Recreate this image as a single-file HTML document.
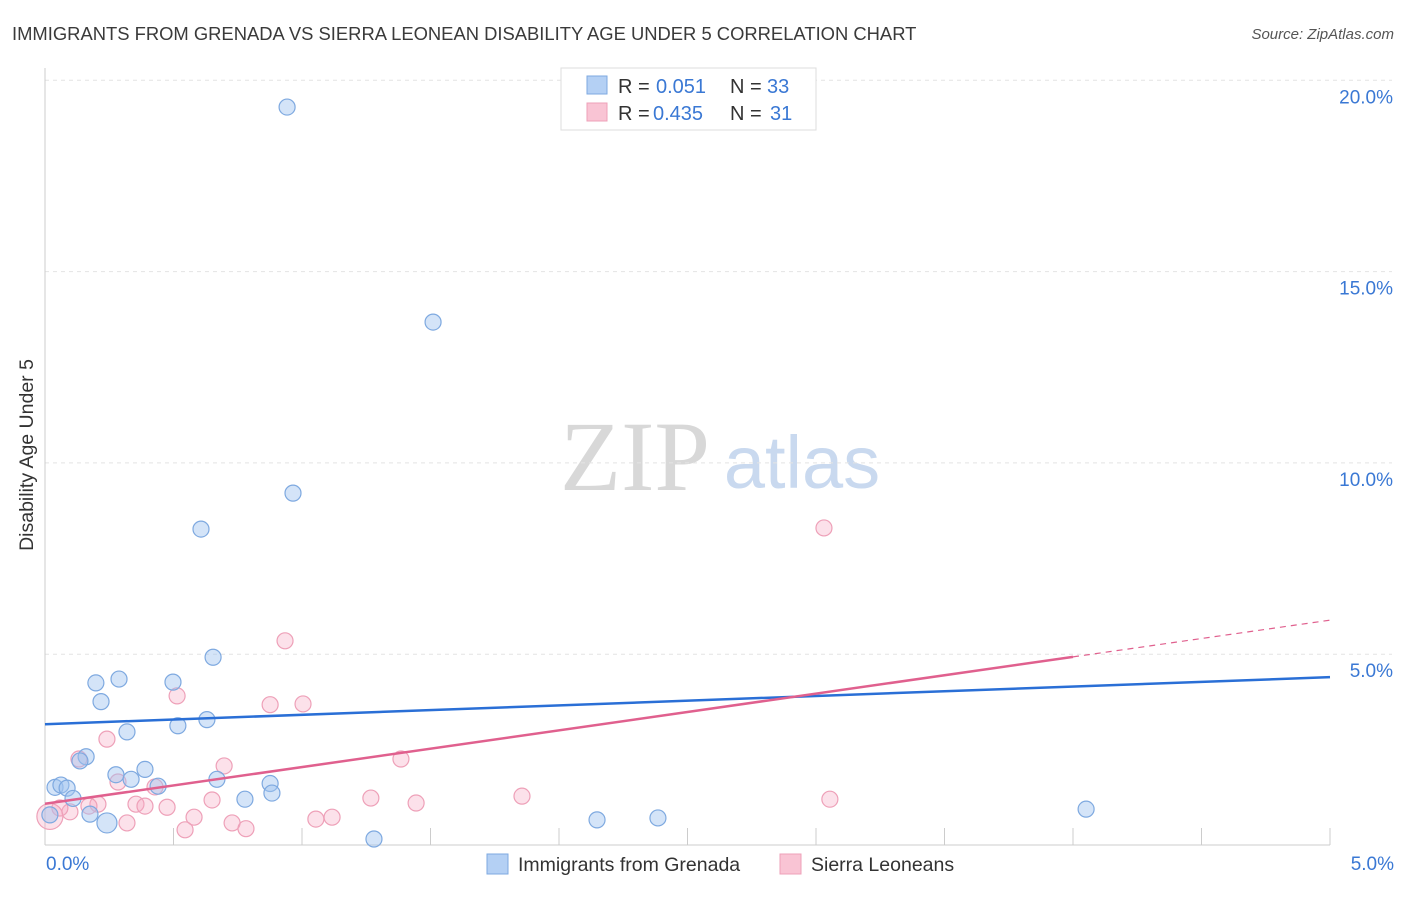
<!DOCTYPE html>
<html><head><meta charset="utf-8">
<style>
body{margin:0;background:#fff;font-family:"Liberation Sans",sans-serif;}
</style></head>
<body>
<svg id="chart" width="1406" height="892" xmlns="http://www.w3.org/2000/svg" font-family="Liberation Sans, sans-serif">
<text x="12" y="40" font-size="18.4" fill="#3a3a3a">IMMIGRANTS FROM GRENADA VS SIERRA LEONEAN DISABILITY AGE UNDER 5 CORRELATION CHART</text>
<text x="1394" y="39" font-size="15" fill="#555" font-style="italic" text-anchor="end">Source: ZipAtlas.com</text>
<text x="635" y="490" font-size="100" fill="#d8d8d8" style="font-family:'Liberation Serif',serif" text-anchor="middle">ZIP</text>
<text x="802" y="488" font-size="74" fill="#c9d9ef" text-anchor="middle">atlas</text>
<text transform="translate(33,455) rotate(-90)" font-size="19.5" fill="#333" text-anchor="middle">Disability Age Under 5</text>
<g id="grid"></g>
<g id="marks"></g>
<g>
<rect x="561" y="68" width="255" height="62" fill="#fff" stroke="#ddd"/>
<rect x="587" y="76" width="20" height="18" fill="#b4d0f4" stroke="#7ea9e0"/>
<rect x="587" y="103" width="20" height="18" fill="#f9c4d4" stroke="#eea0b8"/>
<text x="618" y="93" font-size="20" fill="#333">R =</text>
<text x="656" y="93" font-size="20" fill="#3a78d4">0.051</text>
<text x="730" y="93" font-size="20" fill="#333">N =</text>
<text x="767" y="93" font-size="20" fill="#3a78d4">33</text>
<text x="618" y="120" font-size="20" fill="#333">R =</text>
<text x="653" y="120" font-size="20" fill="#3a78d4">0.435</text>
<text x="730" y="120" font-size="20" fill="#333">N =</text>
<text x="770" y="120" font-size="20" fill="#3a78d4">31</text>
</g>
<g>
<rect x="487" y="854" width="21" height="20" fill="#b4d0f4" stroke="#7ea9e0"/>
<text x="518" y="871" font-size="19.5" fill="#333">Immigrants from Grenada</text>
<rect x="780" y="854" width="21" height="20" fill="#f9c4d4" stroke="#eea0b8"/>
<text x="811" y="871" font-size="19.5" fill="#333">Sierra Leoneans</text>
</g>
</svg>
<script>
const xTicks=[0,5];
const yTicks=[5,10,15,20];
const blueX=[0.942,1.510,0.965,0.607,0.654,0.288,0.198,0.498,0.218,0.630,0.517,0.319,0.160,0.136,0.276,0.389,0.335,0.440,0.669,0.876,0.039,0.062,0.086,0.109,0.778,0.883,0.175,0.241,1.280,2.148,2.385,4.051,0.019];
const blueY=[19.30,13.68,9.21,8.27,4.92,4.35,4.25,4.27,3.76,3.29,3.13,2.97,2.32,2.21,1.85,1.99,1.73,1.55,1.73,1.62,1.52,1.58,1.50,1.23,1.21,1.37,0.82,0.59,0.17,0.67,0.72,0.95,0.80];
const pinkX=[3.031,0.934,0.514,0.876,1.004,0.241,0.132,0.697,1.385,0.284,0.428,0.354,0.389,0.475,0.206,0.171,0.097,0.058,0.650,1.268,1.444,1.856,3.054,0.580,0.728,0.782,0.545,0.319,1.054,1.117,0.019];
const pinkY=[8.30,5.35,3.91,3.68,3.70,2.78,2.26,2.08,2.26,1.66,1.53,1.08,1.03,1.00,1.08,1.03,0.88,0.98,1.19,1.24,1.11,1.29,1.21,0.74,0.59,0.44,0.41,0.59,0.69,0.74,0.76];
const blueTrend=[3.17,4.40];
const pinkTrend=[1.09,5.89];
const NS="http://www.w3.org/2000/svg";
const sx=v=>45+v/5*1285;
const sy=v=>845.5-v*38.26;
function mk(tag,attrs,parent){const e=document.createElementNS(NS,tag);for(const k in attrs)e.setAttribute(k,attrs[k]);parent.appendChild(e);return e;}
const grid=document.getElementById('grid'),marks=document.getElementById('marks');
yTicks.forEach(t=>{
 const l=mk('line',{x1:45,x2:1392,y1:sy(t),y2:sy(t),stroke:'#e4e4e4','stroke-dasharray':'4,4'},grid);
 
 
 const tx=mk('text',{x:1393,y:sy(t)+23,'font-size':19,fill:'#3a78d4','text-anchor':'end'},grid);
 tx.textContent=t.toFixed(1)+'%';
 
 
});
mk('line',{x1:45,x2:45,y1:68,y2:845,stroke:'#ccc'},grid);
mk('line',{x1:45,x2:1330,y1:845,y2:845,stroke:'#ccc'},grid);
for(let i=1;i<=10;i++){const x=sx(i*0.5);mk('line',{x1:x,x2:x,y1:828,y2:845,stroke:'#ccc'},grid);}
xTicks.forEach((t,i)=>{
 const tx=mk('text',{x:i==0?46:1394,y:870,'font-size':19,fill:'#3a78d4','text-anchor':i==0?'start':'end'},grid);
 tx.textContent=t.toFixed(1)+'%';
 
 
});
pinkX.forEach((x,i)=>{
 const c=mk('circle',{cx:sx(x),cy:sy(pinkY[i]),r:i==pinkX.length-1?13:8,fill:'rgba(245,170,195,0.35)',stroke:'#eea0b8','stroke-width':1.2},marks);
 
 
});
blueX.forEach((x,i)=>{
 const c=mk('circle',{cx:sx(x),cy:sy(blueY[i]),r:i==27?10:8,fill:'rgba(160,196,240,0.45)',stroke:'#7ea9e0','stroke-width':1.2},marks);
 
 
});
const bl=mk('line',{x1:sx(0),y1:sy(blueTrend[0]),x2:sx(5),y2:sy(blueTrend[1]),stroke:'#2a6fd6','stroke-width':2.5},marks);


const pm=pinkTrend[0]+(pinkTrend[1]-pinkTrend[0])*0.8;
const pl=mk('line',{x1:sx(0),y1:sy(pinkTrend[0]),x2:sx(4),y2:sy(pm),stroke:'#e0608e','stroke-width':2.5},marks);


const pd=mk('line',{x1:sx(4),y1:sy(pm),x2:sx(5),y2:sy(pinkTrend[1]),stroke:'#e0608e','stroke-width':1.2,'stroke-dasharray':'6,5'},marks);


</script>
</body></html>
